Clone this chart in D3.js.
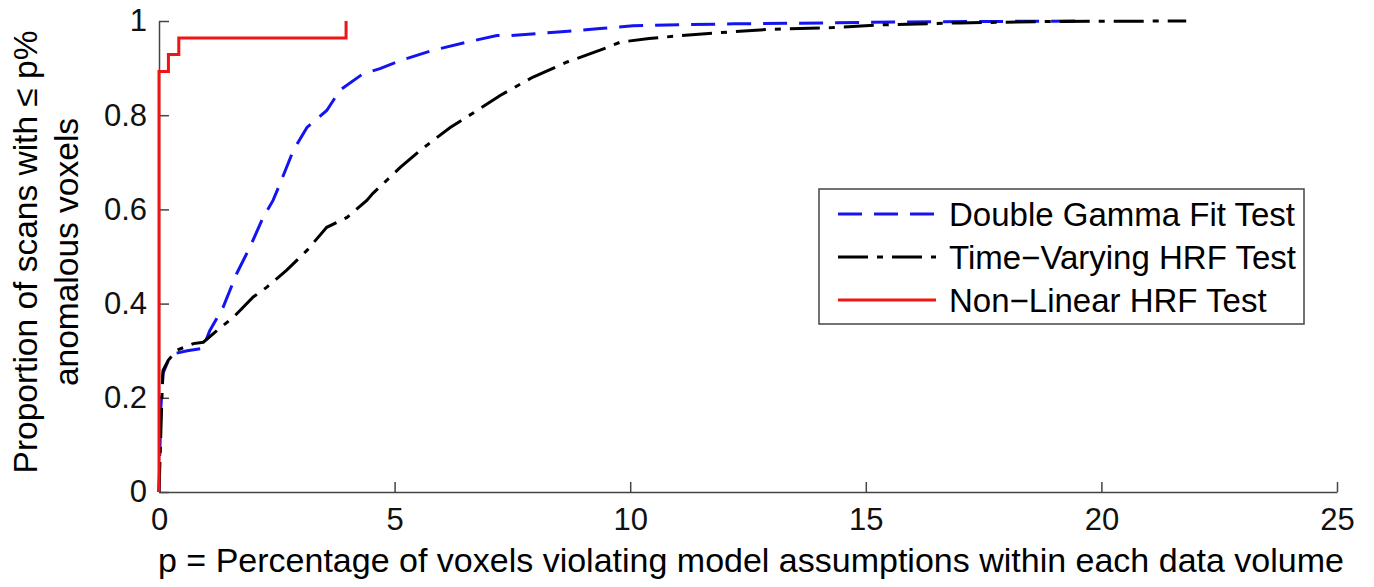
<!DOCTYPE html>
<html>
<meta charset="utf-8">
<title>Anomalous voxels CDF</title>
<style>
  body { margin: 0; background: #fff; font-family: "Liberation Sans", Arial, sans-serif; }
  .axis path, .axis line { fill: none; stroke: #444; stroke-width: 1.5; }
  .axis text { font-size: 31px; fill: #111; font-family: "Liberation Sans", Arial, sans-serif; }
</style>
<script src="https://d3js.org/d3.v7.min.js"></script>
<body>
<script>
// series values
var xTicks = [0, 5, 10, 15, 20, 25];
var yTicks = [0, 0.2, 0.4, 0.6, 0.8, 1];

var gammaX = [0, 0.04, 0.085, 0.2, 0.34, 0.6, 0.93, 1.08, 1.36, 1.65, 1.93, 2.21, 2.42, 2.57, 2.85, 3.14, 3.56, 3.84, 4.33, 4.69, 5.12, 5.82, 6.53, 7.17, 7.45, 8.4, 9.36, 10.06, 12.2, 14.3, 15.7, 17.5, 19.6];
var gammaY = [0, 0.18, 0.252, 0.28, 0.294, 0.3, 0.305, 0.343, 0.392, 0.464, 0.52, 0.583, 0.619, 0.655, 0.725, 0.774, 0.81, 0.853, 0.888, 0.899, 0.916, 0.938, 0.955, 0.969, 0.969, 0.976, 0.984, 0.99, 0.994, 0.996, 0.998, 0.999, 1];

var tvX = [0, 0.06, 0.085, 0.2, 0.38, 0.73, 0.94, 1.23, 1.58, 2.0, 2.29, 2.71, 3.14, 3.56, 3.99, 4.41, 4.54, 5.12, 5.54, 6.18, 6.75, 7.24, 7.94, 8.66, 9.36, 9.79, 10.4, 11.1, 11.85, 12.9, 14.3, 15.4, 17.0, 19.0, 21.8];
var tvY = [0, 0.195, 0.258, 0.28, 0.301, 0.315, 0.318, 0.343, 0.371, 0.414, 0.435, 0.471, 0.513, 0.562, 0.583, 0.619, 0.634, 0.689, 0.725, 0.774, 0.81, 0.842, 0.881, 0.913, 0.938, 0.955, 0.963, 0.969, 0.975, 0.982, 0.986, 0.992, 0.996, 0.999, 1];

var nlX = [0, 0, 0.2, 0.42, 3.97];
var nlY = [0, 0.893, 0.929, 0.964, 1];

var seriesNames = ['Double Gamma Fit Test', 'Time\u2212Varying HRF Test', 'Non\u2212Linear HRF Test'];
var seriesColors = ['#1414f0', '#000000', '#f01414'];
var seriesDash = ['24,12', '30,9,6,9', null];

var W = 1374, H = 587;
var margin = {left: 159, top: 21, right: 37, bottom: 95};
var width = W - margin.left - margin.right,
    height = H - margin.top - margin.bottom;

var svg = d3.select('body').append('svg')
    .attr('width', W).attr('height', H);
var g = svg.append('g')
    .attr('transform', 'translate(' + margin.left + ',' + margin.top + ')');

var x = d3.scaleLinear().domain([0, 25]).range([0, width]);
var y = d3.scaleLinear().domain([0, 1]).range([height, 0]);

g.append('g')
    .attr('class', 'x axis')
    .attr('transform', 'translate(0,' + height + ')')
    .call(d3.axisBottom(x).tickValues(xTicks).tickSizeInner(-10).tickSizeOuter(0).tickPadding(16).tickFormat(d3.format('d')));

g.append('g')
    .attr('class', 'y axis')
    .call(d3.axisLeft(y).tickValues(yTicks).tickSizeInner(-10).tickSizeOuter(0).tickPadding(12).tickFormat(d3.format('~g')));

// curves
var line = d3.line()
    .x(function(d) { return x(d[0]); })
    .y(function(d) { return y(d[1]); });
var stepLine = d3.line()
    .x(function(d) { return x(d[0]); })
    .y(function(d) { return y(d[1]); })
    .curve(d3.curveStepAfter);

var data = [d3.zip(gammaX, gammaY), d3.zip(tvX, tvY), d3.zip(nlX, nlY)];

data.forEach(function(d, i) {
  g.append('path')
    .datum(d)
    .attr('fill', 'none')
    .attr('stroke', seriesColors[i])
    .attr('stroke-width', 3)
    .attr('stroke-dasharray', seriesDash[i])
    .attr('d', i == 2 ? stepLine(d) : line(d));
});

// legend
var legend = svg.append('g').attr('transform', 'translate(819,189)');
legend.append('rect')
    .attr('width', 485).attr('height', 135)
    .attr('fill', '#fff').attr('stroke', '#444').attr('stroke-width', 1.5);

seriesNames.forEach(function(name, i) {
  var row = legend.append('g').attr('transform', 'translate(0,' + (25 + i * 43) + ')');
  row.append('line')
    .attr('x1', 19).attr('x2', 117)
    .attr('stroke', seriesColors[i]).attr('stroke-width', 3)
    .attr('stroke-dasharray', seriesDash[i]);
  row.append('text')
    .attr('x', 130).attr('dy', '0.35em')
    .style('font-size', '33px')
    .text(name);
});

// axis labels
svg.append('text')
    .attr('x', 158).attr('y', 572)
    .style('font-size', '34px')
    .text('p = Percentage of voxels violating model assumptions within each data volume');

var ylab = svg.append('text')
    .attr('transform', 'translate(0,252) rotate(-90)')
    .style('text-anchor', 'middle')
    .style('font-size', '33.5px');
ylab.append('tspan').attr('x', 0).attr('y', 37).text('Proportion of scans with \u2264 p%');
ylab.append('tspan').attr('x', 0).attr('y', 78).text('anomalous voxels');
</script>
</body>
</html>
